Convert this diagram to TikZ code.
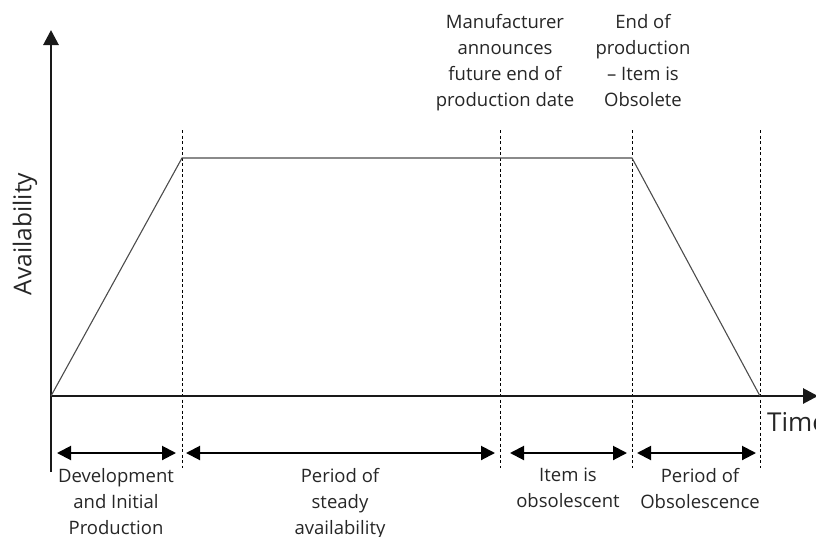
\documentclass[tikz,border=0pt]{standalone}
\usepackage{fontspec}
\setmainfont{Open Sans}
\usetikzlibrary{arrows.meta}
\begin{document}
\begin{tikzpicture}[x=1pt,y=-1pt,
  axis/.style={line width=2.8pt,draw=black!90,-{Triangle[length=15pt,width=15pt]}},
  curve/.style={line width=1.1pt,draw=black!70},
  guide/.style={line width=0.9pt,dash pattern=on 3pt off 2.5pt},
  period/.style={line width=2pt,{Triangle[length=14pt,width=14pt]}-{Triangle[length=14pt,width=14pt]}},
  lbl/.style={font=\fontsize{18.5}{26}\selectfont,align=center,inner sep=0pt,text=black!85}]
\useasboundingbox (0,0) rectangle (816,536);
% key coordinates
\coordinate (o) at (51,396);
\coordinate (ybot) at (51,472);
\coordinate (ytop) at (51,30);
\coordinate (xend) at (818,396);
\coordinate (p1) at (182,158);
\coordinate (p2) at (500,158);
\coordinate (p3) at (632,158);
\coordinate (p4) at (760,396);
% guides
\foreach \n/\x in {g1/182,g2/500,g3/632,g4/760}{
  \coordinate (\n t) at (\x,130);
  \coordinate (\n b) at (\x,468);
  \draw[guide] (\n t) -- (\n b);
}
% axes
\draw[axis] (ybot) -- (ytop);
\draw[axis] (o) -- (xend);
% curve
\draw[curve] (o) -- (p1) -- (p3) -- (p4);
% periods
\coordinate (a1) at (57,453); \coordinate (b1) at (176,453);
\coordinate (a2) at (186,453); \coordinate (b2) at (495,453);
\coordinate (a3) at (510,453); \coordinate (b3) at (627,453);
\coordinate (a4) at (637,453); \coordinate (b4) at (756,453);
\draw[period] (a1) -- (b1);
\draw[period] (a2) -- (b2);
\draw[period] (a3) -- (b3);
\draw[period] (a4) -- (b4);
% labels
\node[lbl,anchor=north] (l1) at (116,468) {Development\\and Initial\\Production};
\node[lbl,anchor=north] (l2) at (340,468) {Period of\\steady\\availability};
\node[lbl,anchor=north] (l3) at (568,468) {Item is\\obsolescent};
\node[lbl,anchor=north] (l4) at (700,468) {Period of\\Obsolescence};
\node[lbl,anchor=north] (t1) at (505,14) {Manufacturer\\announces\\future end of\\production date};
\node[lbl,anchor=north] (t2) at (643,14) {End of\\production\\– Item is\\Obsolete};
\node[lbl,anchor=base west,font=\fontsize{26}{30}\selectfont] (time) at (767,431) {Time};
\node[lbl,rotate=90,font=\fontsize{24.5}{30}\selectfont] (avail) at (25,234) {Availability};
\end{tikzpicture}
\end{document}
